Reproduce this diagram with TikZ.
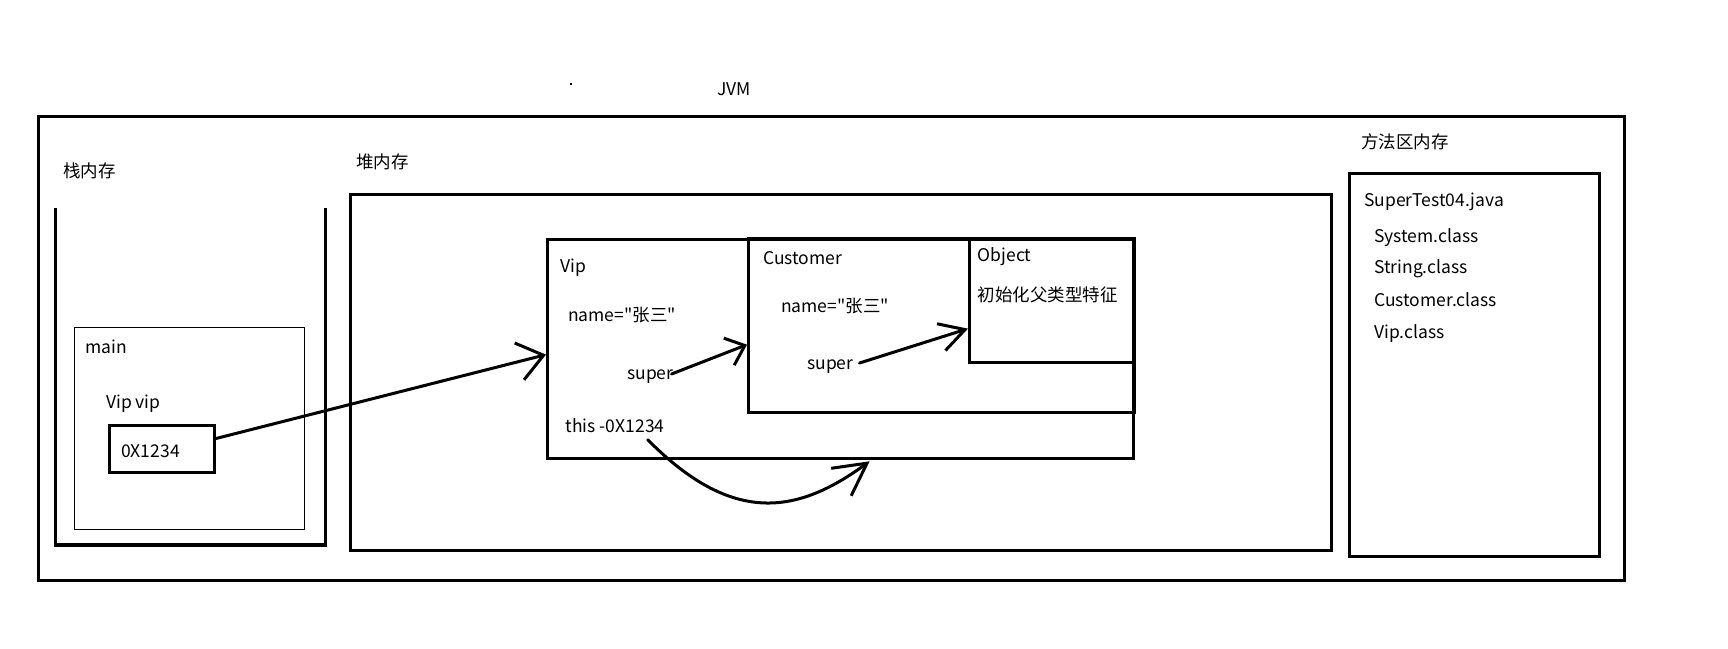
\documentclass[tikz,border=0pt]{standalone}
\usepackage{fontspec}
\setmainfont{Noto Sans CJK SC}[Ligatures=TeXOff]
\usetikzlibrary{arrows.meta,calc}
\begin{document}
\begin{tikzpicture}[x=1pt,y=-1pt,
  lbl/.style={anchor=west,inner sep=0pt,yshift=-1.5pt,font=\fontsize{17.5}{20}\selectfont,text height=12.5pt,text depth=4.5pt},
  bigbox/.style={draw,line width=3.3pt,anchor=north west,inner sep=0pt},
  thinbox/.style={draw,line width=1pt,anchor=north west,inner sep=0pt},
  ptr/.style={line width=3pt,line cap=round,line join=round},
  barb/.style={-{Straight Barb[length=#1,width=38pt]}},
]
\useasboundingbox (0,0) rectangle (1728,648);
% outer JVM box
\node[bigbox,minimum width=1586pt,minimum height=464pt] (jvm) at (37,115) {};
\node[lbl] (jvmlbl) at (717,90) {JVM};
\fill (570,83) rectangle (572,85);
% stack
\node[lbl] (stacklbl) at (63,172) {栈内存};
\coordinate (stl) at (55.5,208);
\coordinate (str) at (325.6,208);
\draw[line width=3.3pt] (stl) -- (55.5,545) -- (325.6,545) -- (str);
\node[thinbox,minimum width=230pt,minimum height=202pt] (main) at (73.5,327) {};
\node[lbl] (mainlbl) at (85,348) {main};
\node[lbl] (viplbl) at (106,403) {Vip vip};
\node[draw,line width=3pt,anchor=north west,inner sep=0pt,minimum width=105pt,minimum height=47pt] (addr) at (108,424) {};
\node[lbl] (addrlbl) at (121,452) {0X1234};
% heap
\node[lbl] (heaplbl) at (356,163) {堆内存};
\node[bigbox,minimum width=981.4pt,minimum height=356pt] (heap) at (348.6,193) {};
\node[bigbox,minimum width=586pt,minimum height=219pt] (vip) at (546,238) {};
\node[bigbox,minimum width=386pt,minimum height=174pt] (cust) at (747,237) {};
\node[bigbox,minimum width=165pt,minimum height=124pt] (obj) at (968,237) {};
\node[lbl] (vipname) at (560,267) {Vip};
\node[lbl] (vipfield) at (568,316) {name="张三"};
\node[lbl] (vsuper) at (627,374) {super};
\node[lbl] (vthis) at (565.5,427) {this -0X1234};
\node[lbl] (custname) at (763,259) {Customer};
\node[lbl] (custfield) at (781,307) {name="张三"};
\node[lbl] (csuper) at (807,364) {super};
\node[lbl] (objname) at (977.6,256) {Object};
\node[lbl] (objinit) at (977.6,296) {初始化父类型特征};
% method area
\node[lbl] (methlbl) at (1361,143) {方法区内存};
\node[bigbox,minimum width=250pt,minimum height=383pt] (meth) at (1348,172) {};
\node[lbl] (m1) at (1364,201) {SuperTest04.java};
\node[lbl] (m2) at (1374,237) {System.class};
\node[lbl] (m3) at (1374,268) {String.class};
\node[lbl] (m4) at (1374,301) {Customer.class};
\node[lbl] (m5) at (1374,333) {Vip.class};
% pointers
\draw[ptr,barb=25pt] ([yshift=10.5pt]addr.east) -- ([yshift=-5.5pt]vip.west);
\draw[ptr,-{Straight Barb[length=17pt,width=29pt]}] ([xshift=-2pt,yshift=1.5pt]vsuper.east) -- ([yshift=-19pt]cust.west);
\draw[ptr,-{Straight Barb[length=25pt,width=28pt]}] ([xshift=6pt,yshift=2.5pt]csuper.east) -- ([yshift=-28pt]obj.west);
\draw[ptr,-{Straight Barb[length=32pt,width=34pt]}] ([xshift=-17pt,yshift=-2.5pt]vthis.south east) .. controls (735,528) and (800,512) .. ([xshift=29pt,yshift=-1pt]vip.south);
\end{tikzpicture}
\end{document}
